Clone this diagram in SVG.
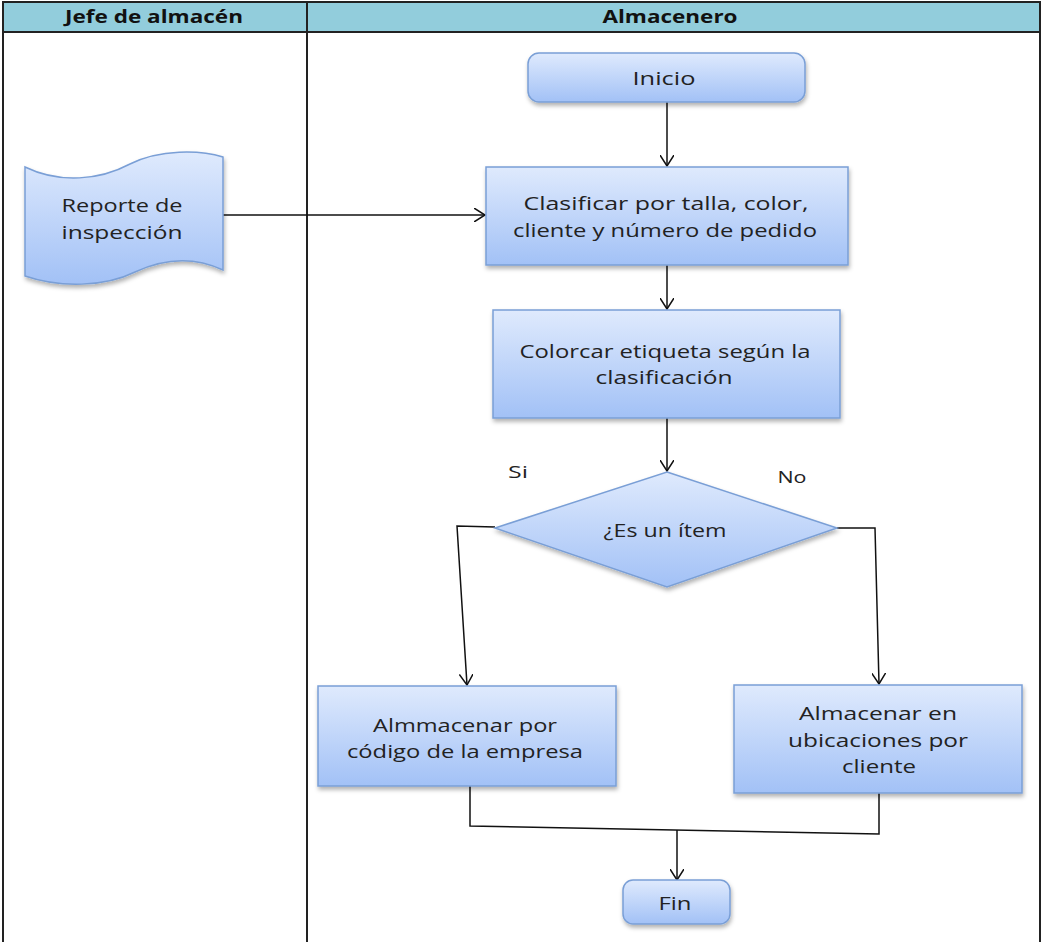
<svg xmlns="http://www.w3.org/2000/svg" width="1042" height="942" viewBox="0 0 1042 942">
<style>
.hdr{font-family:"Open Sans","Liberation Sans",sans-serif;font-weight:bold;font-size:17px;fill:#111;text-anchor:middle}
.t{font-family:"Open Sans","Liberation Sans",sans-serif;font-size:19px;fill:#222;text-anchor:middle}
.lbl{font-family:"Open Sans","Liberation Sans",sans-serif;font-size:17px;fill:#222;text-anchor:middle}
.shape{fill:url(#g);stroke:#7a9fd6;stroke-width:1.5;filter:url(#sh)}
.conn{fill:none;stroke:#111;stroke-width:1.5}
.grid{fill:none;stroke:#222;stroke-width:2}
</style>
<defs>
<linearGradient id="g" x1="0" y1="0" x2="0" y2="1">
<stop offset="0" stop-color="#dfeafd"/>
<stop offset="1" stop-color="#a2c1f6"/>
</linearGradient>
<filter id="sh" x="-10%" y="-10%" width="130%" height="140%">
<feDropShadow dx="1" dy="3" stdDeviation="2" flood-color="#000" flood-opacity="0.3"/>
</filter>
<marker id="arr" markerWidth="12" markerHeight="14" refX="11" refY="7" orient="auto" markerUnits="userSpaceOnUse">
<path d="M0,0 L11,7 L0,14" fill="none" stroke="#111" stroke-width="1.5"/>
</marker>
</defs>
<rect x="0" y="0" width="1042" height="942" fill="#fff"/>
<g id="table">
<rect x="3" y="2" width="1037" height="30" fill="#92cddc"/>
<path class="grid" d="M3,942 L3,2 L1040,2 L1040,942 M3,32 L1040,32 M307,2 L307,942"/>
<text class="hdr" x="154" y="23" textLength="178" lengthAdjust="spacingAndGlyphs">Jefe de almacén</text>
<text class="hdr" x="670" y="23" textLength="135" lengthAdjust="spacingAndGlyphs">Almacenero</text>
</g>
<g id="connectors">
<path class="conn" d="M667,102 L667,166" marker-end="url(#arr)"/>
<path class="conn" d="M222,215 L485,215" marker-end="url(#arr)"/>
<path class="conn" d="M667,265 L667,309" marker-end="url(#arr)"/>
<path class="conn" d="M667,418 L667,471" marker-end="url(#arr)"/>
<path class="conn" d="M495,527 L457,526 L467,685" marker-end="url(#arr)"/>
<path class="conn" d="M837,528 L875,528 L879,684" marker-end="url(#arr)"/>
<path class="conn" d="M470,786 L470,826 L879,834 L879,793"/>
<path class="conn" d="M677,830 L677,880" marker-end="url(#arr)"/>
<text class="lbl" x="518" y="478" textLength="20" lengthAdjust="spacingAndGlyphs">Si</text>
<text class="lbl" x="792" y="483" textLength="29" lengthAdjust="spacingAndGlyphs">No</text>
</g>
<g id="inicio">
<rect class="shape" x="528" y="53" width="277" height="49" rx="11"/>
<text class="t" x="664" y="85" textLength="63" lengthAdjust="spacingAndGlyphs">Inicio</text>
</g>
<g id="reporte">
<path class="shape" d="M25,167 C60,184 100,180 130,164 C160,149 200,150 223,157 L223,270 C195,257 165,258 135,272 C105,287 60,288 25,276 Z"/>
<text class="t" x="122" y="212" textLength="121" lengthAdjust="spacingAndGlyphs">Reporte de</text>
<text class="t" x="122" y="239" textLength="121" lengthAdjust="spacingAndGlyphs">inspección</text>
</g>
<g id="clasificar">
<rect class="shape" x="486" y="167" width="362" height="98"/>
<text class="t" x="666" y="210" textLength="285" lengthAdjust="spacingAndGlyphs">Clasificar  por talla, color,</text>
<text class="t" x="665" y="237" textLength="304" lengthAdjust="spacingAndGlyphs">cliente y número de pedido</text>
</g>
<g id="colocar">
<rect class="shape" x="493" y="310" width="347" height="108"/>
<text class="t" x="665" y="358" textLength="291" lengthAdjust="spacingAndGlyphs">Colorcar etiqueta según la</text>
<text class="t" x="664" y="384" textLength="137" lengthAdjust="spacingAndGlyphs">clasificación</text>
</g>
<g id="decision">
<path class="shape" d="M667,472 L837,528 L667,587 L495,528 Z"/>
<text class="t" x="665" y="537" textLength="123" lengthAdjust="spacingAndGlyphs">¿Es un ítem</text>
</g>
<g id="almacenar-codigo">
<rect class="shape" x="318" y="686" width="298" height="100"/>
<text class="t" x="465" y="732" textLength="184" lengthAdjust="spacingAndGlyphs">Almmacenar por</text>
<text class="t" x="465" y="758" textLength="236" lengthAdjust="spacingAndGlyphs">código de la empresa</text>
</g>
<g id="almacenar-cliente">
<rect class="shape" x="734" y="685" width="288" height="108"/>
<text class="t" x="878" y="720" textLength="158" lengthAdjust="spacingAndGlyphs">Almacenar  en</text>
<text class="t" x="878" y="747" textLength="180" lengthAdjust="spacingAndGlyphs">ubicaciones por</text>
<text class="t" x="879" y="773" textLength="74" lengthAdjust="spacingAndGlyphs">cliente</text>
</g>
<g id="fin">
<rect class="shape" x="623" y="880" width="107" height="44" rx="10"/>
<text class="t" x="675" y="910" textLength="33" lengthAdjust="spacingAndGlyphs">Fin</text>
</g>
</svg>
